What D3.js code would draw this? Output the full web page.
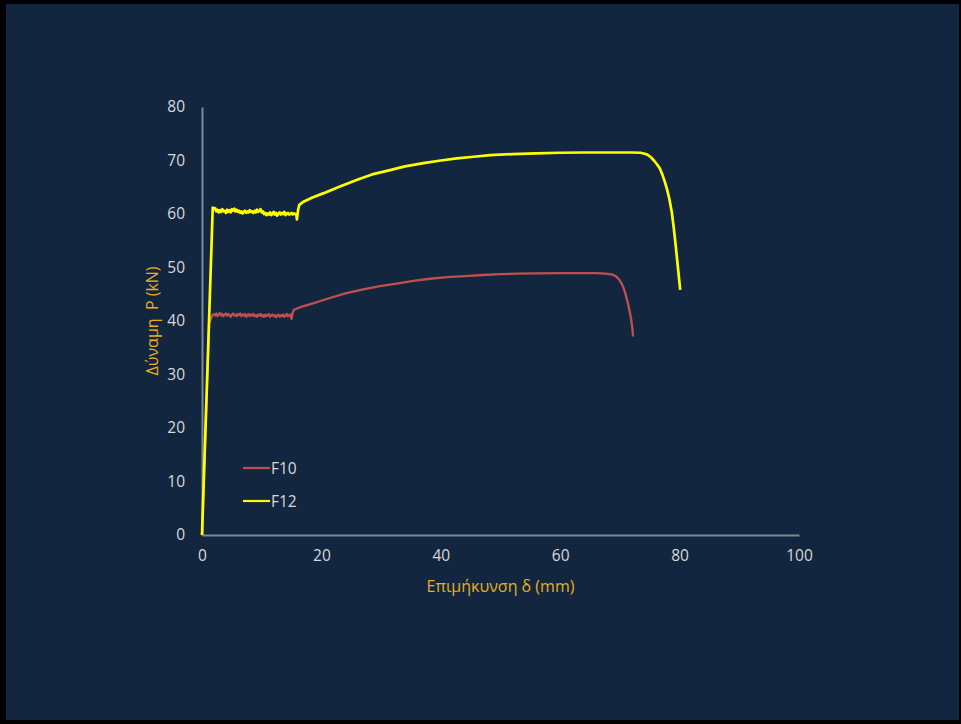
<!DOCTYPE html>
<html>
<head>
<meta charset="utf-8">
<script src="https://cdn.jsdelivr.net/npm/d3@7/dist/d3.min.js"></script>
<style>
  html, body { margin: 0; padding: 0; background: #000; }
  svg { display: block; }
  text { font-family: "Open Sans", "Noto Sans", sans-serif; }
</style>
</head>
<body>
<script>
// Tensile test curves: extension δ (mm) vs force P (kN)
const xTicks = [0, 20, 40, 60, 80, 100];
const yTicks = [0, 10, 20, 30, 40, 50, 60, 70, 80];
const seriesNames = ["F10", "F12"];
const seriesColors = ["#c0504d", "#ffff00"];

const f10 = [
  [0, 0], [1.2, 39.5], [1.7, 41.0], [2.0, 41.3],
  [2.2, 41.0], [2.4, 41.4], [2.6, 40.9], [2.8, 41.2], [3.0, 41.5], [3.2, 41.0], [3.4, 41.3],
  [3.6, 40.9], [3.8, 41.2], [4.0, 41.4], [4.2, 41.0], [4.4, 41.3], [4.6, 41.1], [4.8, 40.8],
  [5.0, 41.2], [5.2, 41.4], [5.4, 41.0], [5.6, 41.2], [5.8, 40.9], [6.0, 41.3], [6.2, 41.1],
  [6.4, 41.4], [6.6, 40.9], [6.8, 41.2], [7.0, 41.0], [7.2, 41.3], [7.4, 40.8], [7.6, 41.1],
  [7.8, 41.3], [8.0, 40.9], [8.2, 41.2], [8.4, 41.0], [8.6, 41.3], [8.8, 40.9], [9.0, 41.1],
  [9.2, 40.8], [9.4, 41.2], [9.6, 41.0], [9.8, 41.3], [10.0, 40.9], [10.2, 41.1], [10.4, 40.8],
  [10.6, 41.2], [10.8, 40.9], [11.0, 41.1], [11.2, 41.3], [11.4, 40.8], [11.6, 41.0], [11.8, 41.2],
  [12.0, 40.9], [12.2, 41.1], [12.4, 40.7], [12.6, 41.0], [12.8, 41.2], [13.0, 40.8], [13.2, 41.1],
  [13.4, 40.9], [13.6, 41.2], [13.8, 40.8], [14.0, 41.0], [14.2, 41.3], [14.4, 40.9], [14.6, 41.1],
  [14.8, 41.2], [15.0, 40.4], [15.2, 41.6], [15.4, 42.1],
  [16.5, 42.6], [18.6, 43.3], [21.4, 44.3], [24.2, 45.2], [27.0, 45.9], [29.8, 46.5], [32.6, 47.0],
  [35.4, 47.5], [38.2, 47.9], [41.0, 48.2], [44.0, 48.4], [47.0, 48.6], [50.0, 48.75], [53.0, 48.85],
  [56.0, 48.9], [60.0, 48.95], [64.0, 48.95], [66.0, 48.95], [67.5, 48.85], [68.3, 48.75],
  [68.9, 48.6], [69.4, 48.3], [69.9, 47.7], [70.3, 47.0], [70.7, 45.9], [71.0, 44.8], [71.3, 43.5],
  [71.6, 42.0], [71.9, 40.2], [72.1, 38.5], [72.2, 37.1]
];

const f12 = [
  [0, 0], [1.8, 61.2],
  [2.0, 60.9], [2.2, 61.1], [2.4, 60.5], [2.6, 60.8], [2.8, 60.3], [3.0, 60.7], [3.2, 60.4],
  [3.4, 60.9], [3.6, 60.5], [3.8, 60.6], [4.0, 60.2], [4.2, 60.8], [4.4, 60.4], [4.6, 60.7],
  [4.8, 60.3], [5.0, 60.9], [5.2, 60.6], [5.4, 61.0], [5.6, 60.5], [5.8, 60.8], [6.0, 60.4],
  [6.2, 60.6], [6.4, 60.2], [6.6, 60.5], [6.8, 60.1], [7.0, 60.4], [7.2, 60.6], [7.4, 60.2],
  [7.6, 60.5], [7.8, 60.3], [8.0, 60.7], [8.2, 60.4], [8.4, 60.5], [8.6, 60.2], [8.8, 60.6],
  [9.0, 60.3], [9.2, 60.8], [9.4, 60.4], [9.6, 60.6], [9.8, 60.9], [10.0, 60.3], [10.2, 60.5],
  [10.4, 60.0], [10.6, 60.2], [10.8, 59.8], [11.0, 60.1], [11.2, 59.9], [11.4, 60.3], [11.6, 59.8],
  [11.8, 60.0], [12.0, 60.4], [12.2, 59.9], [12.4, 60.2], [12.6, 59.7], [12.8, 60.1], [13.0, 60.3],
  [13.2, 59.9], [13.4, 60.2], [13.6, 60.0], [13.8, 60.4], [14.0, 59.8], [14.2, 60.1], [14.4, 60.2],
  [14.6, 59.9], [14.8, 60.0], [15.0, 60.2], [15.2, 59.9], [15.4, 60.1], [15.6, 60.0], [15.8, 59.9],
  [15.9, 59.0], [16.1, 60.8], [16.3, 61.7],
  [17.0, 62.3], [18.5, 63.1], [20.4, 63.9], [23.0, 65.1], [26.0, 66.4], [28.5, 67.4], [31.5, 68.2],
  [34.0, 68.9], [37.1, 69.5], [40.0, 70.0], [42.7, 70.4], [45.5, 70.7], [48.3, 71.0], [52.0, 71.2],
  [56.0, 71.35], [60.0, 71.45], [64.0, 71.5], [68.0, 71.5], [72.0, 71.5], [73.4, 71.45],
  [74.0, 71.3], [74.6, 71.1], [75.2, 70.6], [75.7, 70.0], [76.2, 69.3], [76.7, 68.5], [77.1, 67.4],
  [77.5, 66.1], [77.9, 64.6], [78.3, 62.7], [78.7, 60.3], [79.0, 57.6], [79.3, 54.6], [79.6, 51.3],
  [79.9, 48.0], [80.1, 45.8]
];

const seriesData = [f10, f12];

const W = 961, H = 724;
const plot = { left: 202, right: 799, top: 107, bottom: 535 };

const svg = d3.select("body").append("svg")
  .attr("width", W).attr("height", H);

// black frame with navy panel
svg.append("rect").attr("width", W).attr("height", H).attr("fill", "#000");
svg.append("rect").attr("x", 6).attr("y", 4).attr("width", 953).attr("height", 716)
  .attr("fill", "#12263f");

const x = d3.scaleLinear().domain([0, 100]).range([plot.left, plot.right]);
const y = d3.scaleLinear().domain([0, 80]).range([plot.bottom, plot.top]);

const tickColor = "#d9d9d9";
const axisColor = "#7f8793";
const tickFont = 15.5;

// x axis
const xAxis = svg.append("g")
  .attr("transform", `translate(0,${plot.bottom})`)
  .call(d3.axisBottom(x).tickValues(xTicks).tickSize(0).tickPadding(15));
xAxis.select(".domain").attr("stroke", axisColor).attr("stroke-width", 2);
xAxis.selectAll("text").attr("fill", tickColor).attr("font-size", tickFont)
  .attr("font-family", "'Open Sans', 'Noto Sans', sans-serif");

// y axis
const yAxis = svg.append("g")
  .attr("transform", `translate(${plot.left},0)`)
  .call(d3.axisLeft(y).tickValues(yTicks).tickSize(0).tickPadding(17));
yAxis.select(".domain").attr("stroke", axisColor).attr("stroke-width", 2);
yAxis.selectAll("text").attr("fill", tickColor).attr("font-size", tickFont)
  .attr("font-family", "'Open Sans', 'Noto Sans', sans-serif");

// curves
const line = d3.line().x(d => x(d[0])).y(d => y(d[1]));
seriesData.forEach((data, i) => {
  svg.append("path")
    .datum(data)
    .attr("fill", "none")
    .attr("stroke", seriesColors[i])
    .attr("stroke-width", i === 1 ? 2.7 : 2.3)
    .attr("stroke-linejoin", "round")
    .attr("d", line);
});

// axis titles
const titleColor = "#e8ae1c";
svg.append("text")
  .attr("x", (plot.left + plot.right) / 2).attr("y", 592)
  .attr("text-anchor", "middle").attr("fill", titleColor).attr("font-size", 16)
  .text("Επιμήκυνση δ (mm)");

svg.append("text")
  .attr("transform", `translate(158,${(plot.top + plot.bottom) / 2}) rotate(-90)`)
  .attr("text-anchor", "middle").attr("fill", titleColor).attr("font-size", 16)
  .style("white-space", "pre")
  .text("Δύναμη  P (kN)");

// legend
const legend = svg.append("g");
seriesNames.forEach((name, i) => {
  const ly = 468 + i * 33;
  legend.append("line")
    .attr("x1", 243).attr("x2", 270).attr("y1", ly).attr("y2", ly)
    .attr("stroke", seriesColors[i]).attr("stroke-width", 2.2);
  legend.append("text")
    .attr("x", 271).attr("y", ly + 5.5)
    .attr("fill", tickColor).attr("font-size", 15.5)
    .text(name);
});
</script>
</body>
</html>
